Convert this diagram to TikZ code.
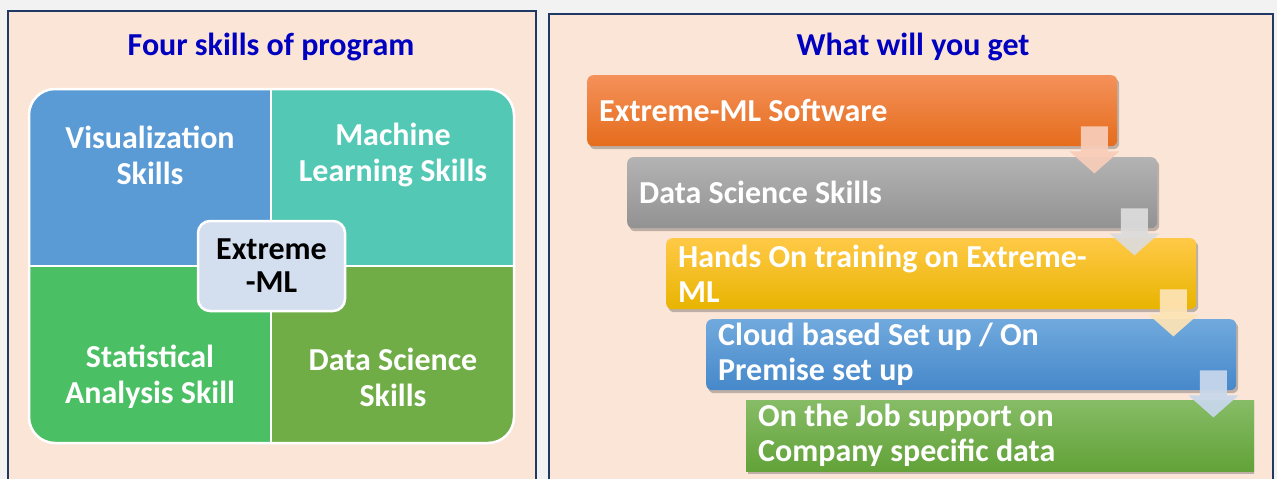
\documentclass[tikz,border=0pt]{standalone}
\usepackage{fontspec}
\setmainfont{Carlito}
\usetikzlibrary{calc,shadows}
\definecolor{outerbg}{HTML}{F2F2F2}
\definecolor{panelbg}{HTML}{FBE5D6}
\definecolor{panelline}{HTML}{203864}
\definecolor{titleblue}{HTML}{0000C0}
\definecolor{qblue}{HTML}{5B9BD5}
\definecolor{qteal}{HTML}{53C9B5}
\definecolor{qgreen}{HTML}{4BBF63}
\definecolor{qolive}{HTML}{70AD47}
\definecolor{corefill}{HTML}{D3DEEF}
\definecolor{orTop}{HTML}{F4915A}
\definecolor{orBot}{HTML}{E56C1C}
\definecolor{grTop}{HTML}{B3B3B3}
\definecolor{grBot}{HTML}{929292}
\definecolor{yeTop}{HTML}{FFC947}
\definecolor{yeBot}{HTML}{E8B400}
\definecolor{blTop}{HTML}{70A9DD}
\definecolor{blBot}{HTML}{4688CA}
\definecolor{gnTop}{HTML}{86BC66}
\definecolor{gnBot}{HTML}{62A238}
\definecolor{arOr}{HTML}{F8CDB9}
\definecolor{arGr}{HTML}{DCDCDC}
\definecolor{arYe}{HTML}{FEE4B5}
\definecolor{arBl}{HTML}{C8D8EC}
\newcommand\stepArrow[2]{%
  \fill[#2,opacity=0.93] ($(#1)+(-36.5,-20)$) -- ($(#1)+(-9.5,-20)$) -- ($(#1)+(-9.5,5)$) -- ($(#1)+(2,5)$) -- ($(#1)+(-23,27)$) -- ($(#1)+(-48,5)$) -- ($(#1)+(-36.5,5)$) -- cycle;}
\tikzset{
  paneltitle/.style={font=\fontsize{32}{36}\selectfont\bfseries, text=titleblue, inner sep=0pt},
  quadtext/.style={font=\fontsize{32}{36}\selectfont\bfseries, text=white, align=center, inner sep=0pt},
  corebox/.style={draw=white, line width=2.5pt, fill=corefill, rounded corners=12pt, minimum width=147pt, minimum height=90pt, align=center, font=\fontsize{32}{33}\selectfont\bfseries, inner sep=0pt},
  stepbox/.style={anchor=north west, rounded corners=6pt, minimum width=530pt, minimum height=71pt, text width=506pt, align=flush left, inner sep=0pt, text=white, font=\fontsize{32}{35}\selectfont\bfseries,
    drop shadow={shadow xshift=2pt, shadow yshift=-3pt, opacity=0.35, fill=black!70}},
}
\begin{document}
\begin{tikzpicture}[x=1pt,y=-1pt]
\useasboundingbox (0,0) rectangle (1277,479);
\fill[outerbg] (0,0) rectangle (1277,479);
% panels
\filldraw[fill=panelbg, draw=panelline, line width=2pt] (8,11) -- (8,495) -- (536,495) -- (536,11) -- cycle;
\filldraw[fill=panelbg, draw=panelline, line width=2pt] (549,14) -- (549,495) -- (1273,495) -- (1273,14) -- cycle;
\node[paneltitle] (t1) at (271,47) {Four skills of program};
\node[paneltitle] (t2) at (913,47) {What will you get};
% quadrants
\begin{scope}
\clip[rounded corners=26pt] (29,89) rectangle (514,443);
\fill[qblue] (29,89) rectangle (271,266);
\fill[qteal] (271,89) rectangle (514,266);
\fill[qgreen] (29,266) rectangle (271,443);
\fill[qolive] (271,266) rectangle (514,443);
\end{scope}
\draw[white, line width=2.5pt] (271,89) -- (271,443) (29,266) -- (514,266);
\draw[white, line width=2.5pt, rounded corners=26pt] (29,89) rectangle (514,443);
\node[quadtext] (q1) at (150,155) {Visualization\\Skills};
\node[quadtext] (q2) at (393,155) {Machine\\Learning Skills};
\node[quadtext] (q3) at (150,377) {Statistical\\Analysis Skill};
\node[quadtext] (q4) at (393,377) {Data Science\\Skills};
\node[corebox] (core) at (271.5,266) {Extreme\\-ML};
% steps
\node[stepbox, top color=orTop, bottom color=orBot] (s1) at (587,75) {Extreme-ML Software};
\node[stepbox, top color=grTop, bottom color=grBot] (s2) at (627,157) {Data Science Skills};
\node[stepbox, top color=yeTop, bottom color=yeBot] (s3) at (666,238) {Hands On training on Extreme-\\ML};
\node[stepbox, top color=blTop, bottom color=blBot] (s4) at (706,319) {Cloud based Set up / On\\Premise set up};
\begin{scope}
\clip (540,0) rectangle (1254,479);
\node[stepbox, top color=gnTop, bottom color=gnBot, rounded corners=0pt] (s5) at (746,400) {On the Job support on\\Company specific data};
\end{scope}
\stepArrow{s1.south east}{arOr}
\stepArrow{s2.south east}{arGr}
\stepArrow{s3.south east}{arYe}
\stepArrow{s4.south east}{arBl}
\end{tikzpicture}
\end{document}
